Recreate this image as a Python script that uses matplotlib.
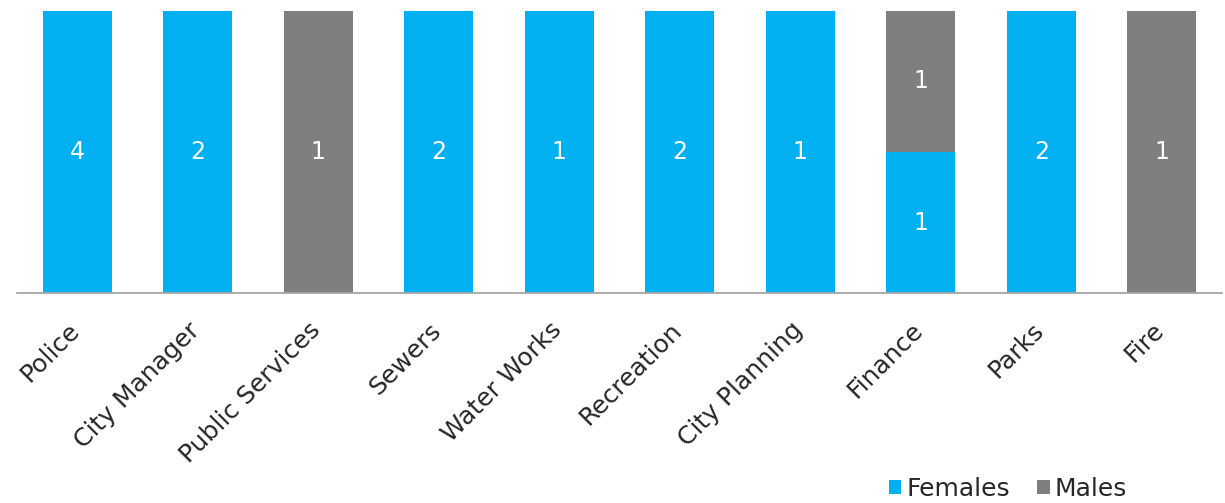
import numpy as np
import matplotlib.pyplot as plt
from matplotlib.transforms import ScaledTranslation

# Staff counts by department
departments = ['Police', 'City Manager', 'Public Services', 'Sewers', 'Water Works',
               'Recreation', 'City Planning', 'Finance', 'Parks', 'Fire']
females = [4, 2, 0, 2, 1, 2, 1, 1, 2, 0]
males = [0, 0, 1, 0, 0, 0, 0, 1, 0, 1]

blue = '#00B0F0'
grey = '#7F7F7F'

f = np.array(females, dtype=float)
m = np.array(males, dtype=float)
tot = f + m
f_pct = f / tot * 100
m_pct = m / tot * 100

fig = plt.figure(figsize=(12.25, 5.03), dpi=100)
ax = fig.add_axes([17 / 1225, 1 - 293 / 503, 1205 / 1225, 282 / 503])

x = np.arange(len(departments))
w = 0.57
ax.bar(x, f_pct, w, color=blue, label='Females')
ax.bar(x, m_pct, w, bottom=f_pct, color=grey, label='Males')

# value labels in the middle of each segment
for i in range(len(departments)):
    if f[i] > 0:
        ax.text(x[i], f_pct[i] / 2, str(int(f[i])), ha='center', va='center',
                color='white', fontsize=17)
    if m[i] > 0:
        ax.text(x[i], f_pct[i] + m_pct[i] / 2, str(int(m[i])), ha='center', va='center',
                color='white', fontsize=17)

ax.set_xlim(-0.5, len(departments) - 0.5)
ax.set_ylim(0, 100)
ax.set_yticks([])
ax.set_xticks(x)
ax.set_xticklabels(departments, rotation=45, ha='right', rotation_mode='anchor',
                   fontsize=18, color='#262626')
ax.tick_params(axis='x', length=0, pad=18)
shift = ScaledTranslation(-10 / 100, 0, fig.dpi_scale_trans)
for lbl in ax.get_xticklabels():
    lbl.set_transform(lbl.get_transform() + shift)
for s in ['top', 'right', 'left']:
    ax.spines[s].set_visible(False)
ax.spines['bottom'].set_color('#A6A6A6')
ax.spines['bottom'].set_linewidth(1.3)

fig.legend(loc='center', bbox_to_anchor=(1008 / 1225, 1 - 489 / 503), ncol=2,
           frameon=False, fontsize=18, handlelength=0.5, handleheight=0.5,
           handletextpad=0.2, columnspacing=1.1, labelcolor='#262626')

fig.savefig('out.png', dpi=100)
